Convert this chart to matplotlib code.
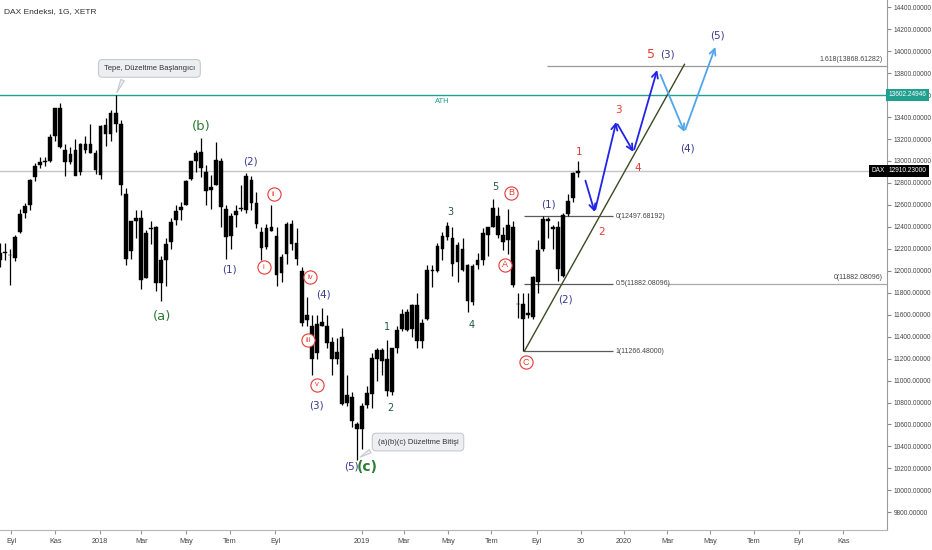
import matplotlib
matplotlib.use("Agg")
import matplotlib.pyplot as plt
import matplotlib.dates as mdates
import matplotlib.transforms as mtransforms
import numpy as np
import pandas as pd

plt.rcParams['font.family'] = ['Liberation Sans Narrow', 'Liberation Sans', 'DejaVu Sans']

# ---------------- data ----------------
title = "DAX Endeksi, 1G, XETR"
first_week = "2017-08-14"
opens = [12100,12165,12140,12120,12350,12530,12600,12850,12960,13000,13000,13230,13480,13100,12990,13100,12900,13150,13150,13070,
         12870,13330,13250,13440,13340,12700,12180,12450,12480,11930,12380,12400,11890,12100,12260,12460,12550,12600,12840,13000,
         13080,12900,12740,12780,13000,12560,12320,12510,12560,12550,12830,12620,12350,12220,12400,12320,11980,12150,12430,12250,
         12000,11600,11500,11250,11500,11500,11350,11200,11400,10800,10850,10600,10560,
         10780,10880,11200,11280,11200,10900,11300,11470,11620,11470,11690,11360,11560,12000,12000,12200,12310,12300,12080,12200,
         12050,11720,12050,12100,12330,12400,12500,12330,12280,12400,11700,11700,11600,11580,11900,12200,12450,12400,12400,11950,
         12520,12660,12890]
highs = [12250,12250,12200,12330,12560,12620,12840,12980,13040,13040,13250,13480,13526,13150,13130,13200,13160,13230,13340,13100,
         13330,13390,13460,13597,13370,12750,12450,12550,12550,12370,12450,12410,12130,12300,12480,12600,12630,12830,13000,13100,
         13205,12960,12870,13170,13030,12600,12530,12600,12780,12890,12860,12720,12400,12430,12600,12400,12150,12440,12460,12390,
         12030,11760,11600,11600,11660,11600,11400,11390,11480,11050,10900,10620,10800,
         10950,11250,11300,11300,11370,11300,11500,11650,11650,11700,11800,11560,12050,12050,12250,12350,12440,12400,12260,12300,
         12060,12060,12160,12390,12400,12656,12580,12400,12560,12450,11800,11800,11800,11950,12280,12500,12490,12420,12450,12530,
         12700,12900,13000]
lows = [12030,12100,11868,12090,12340,12480,12550,12820,12940,12950,12990,13180,13120,12860,12970,12900,12870,13070,13070,12880,
        12840,13140,13180,13260,12690,12050,12110,12300,11830,11930,12240,11820,11727,11860,12200,12420,12460,12600,12830,12900,
        12850,12600,12560,12780,12400,12104,12200,12400,12540,12530,12550,12390,12100,12200,12360,11865,11900,12060,12190,12050,
        11500,11500,11050,11200,11500,11300,11050,11150,10780,10770,10580,10279,10380,
        10750,10750,11000,11050,10860,10870,11250,11450,11450,11400,11300,11300,11550,11850,11990,12100,12280,11950,11900,12000,
        11620,11690,12020,12050,12130,12400,12300,12190,12150,11850,11570,11266,11570,11560,11800,12180,12300,12200,11910,11940,
        12500,12630,12850]
closes = [12165,12168,12143,12304,12519,12592,12828,12955,12992,12991,13217,13478,13127,12994,13060,12861,13153,13104,13072,12918,
          13320,13245,13435,13340,12785,12107,12452,12483,11913,12346,12390,11886,12096,12241,12442,12540,12580,12820,13000,13077,
          12938,12724,12767,13011,12580,12306,12496,12541,12561,12860,12616,12424,12210,12394,12364,11959,12124,12430,12246,12111,
          11523,11553,11200,11519,11529,11341,11192,11257,10788,10866,10634,10559,10767,
          10887,11205,11281,11180,10906,11299,11457,11602,11458,11686,11364,11526,12010,11999,12222,12315,12412,12060,12238,12011,
          11726,12045,12096,12340,12399,12568,12323,12260,12419,11872,11693,11562,11612,11939,12191,12469,12468,12380,12013,12512,
          12634,12894,12910]

ath_level = 13602.24946
last_price = 12910.23
fib_levels = [0.0, 0.5, 1.0]
fib_prices = [12497.68192, 11882.08096, 11266.48]
fib_ext_label, fib_ext_price = "1.618", 13868.61282
fib_start, fib_end, fib_text_at = "2019-08-16", "2019-12-17", "2019-12-21"
fib_ext_start = "2019-09-17"
ray_start = "2020-03-02"
trend_dates = ["2019-08-16", "2020-03-26"]
trend_prices = [11266.48, 13880]

# wave labels: text, date, price, colour key
lbl_text = ["(a)", "(b)", "(c)", "(5)", "(1)", "(2)", "(3)", "(4)",
            "1", "2", "3", "4", "5", "(1)", "(2)",
            "1", "2", "3", "4", "5", "(3)", "(4)", "(5)"]
lbl_date = ["2018-03-29", "2018-05-23", "2019-01-10", "2018-12-18", "2018-07-01", "2018-07-31", "2018-10-31", "2018-11-09",
            "2019-02-06", "2019-02-10", "2019-05-05", "2019-06-04", "2019-07-06", "2019-09-18", "2019-10-12",
            "2019-10-31", "2019-12-02", "2019-12-25", "2020-01-21", "2020-02-09", "2020-03-02", "2020-03-30", "2020-05-11"]
lbl_price = [11588, 13310, 10213, 10213, 12007, 12991, 10777, 11788,
             11488, 10750, 12535, 11506, 12763, 12599, 11734,
             13082, 12353, 13465, 12936, 13966, 13966, 13118, 14139]
lbl_kind = ["g", "g", "gb", "n", "n", "n", "n", "n",
            "t", "t", "t", "t", "t", "n", "n",
            "r", "r", "r", "r", "rb", "n", "n", "n"]

circ_text = ["i", "ii", "iii", "iv", "v", "A", "B", "C"]
circ_date = ["2018-08-18", "2018-09-01", "2018-10-19", "2018-10-22", "2018-10-31", "2019-07-20", "2019-07-29", "2019-08-18"]
circ_price = [12034, 12699, 11369, 11943, 10960, 12053, 12709, 11169]

proj_dark_dates = ["2019-11-08", "2019-11-22", "2019-12-22", "2020-01-15", "2020-02-17"]
proj_dark_prices = [12845, 12535, 13355, 13082, 13829]
proj_light_dates = ["2020-02-20", "2020-03-26", "2020-05-08"]
proj_light_prices = [13810, 13264, 14038]

tick_dates = ["2017-09-01", "2017-11-01", "2018-01-02", "2018-03-01", "2018-05-02", "2018-07-02", "2018-09-03",
              "2019-01-02", "2019-03-01", "2019-05-02", "2019-07-01", "2019-09-02", "2019-11-03", "2020-01-02",
              "2020-03-02", "2020-05-01", "2020-07-01", "2020-09-01", "2020-11-02"]
tick_labels = ["Eyl", "Kas", "2018", "Mar", "May", "Tem", "Eyl", "2019", "Mar", "May", "Tem", "Eyl", "30", "2020",
               "Mar", "May", "Tem", "Eyl", "Kas"]

# ---------------- figure ----------------
fig = plt.figure(figsize=(9.32, 5.5), dpi=100)
ax = fig.add_axes([0, 20/550, 887/932, 530/550])
D = lambda s: mdates.datestr2num(s)

x_left, x_right = D("2017-08-16"), D("2021-01-02")
ax.set_xlim(x_left, x_right)
ax.set_ylim(9639, 14466)

teal = "#22a08f"
red = "#e53935"
colors = {"g": "#2e7d32", "gb": "#2e7d32", "n": "#3b3b8f", "t": "#1f5a40", "r": red, "rb": red}
sizes = {"g": 9.5, "gb": 10, "n": 7.5, "t": 7, "r": 7.5, "rb": 9}

# horizontal levels
ax.axhline(ath_level, color=teal, lw=1, zorder=1)
ax.axhline(last_price, color="#c4c4c4", lw=1, zorder=1)
ax.text(D("2019-04-24"), 13546, "ATH", color=teal, fontsize=5.5, ha="center", va="center")

# candles (weekly)
wk = pd.date_range(first_week, periods=len(opens), freq="W-MON")
xc = mdates.date2num(wk) + 2
o, h, l, c = map(np.array, (opens, highs, lows, closes))
ax.vlines(xc, l, h, color="black", lw=0.9, zorder=3)
ax.bar(xc, np.maximum(np.abs(c - o), 8), bottom=np.minimum(o, c), width=5.2,
       color="black", edgecolor="black", lw=0.3, zorder=3)

# fib retracement
fibc = "#5a5a5a"
for lev, pr in zip(fib_levels, fib_prices):
    ax.hlines(pr, D(fib_start), D(fib_end), color=fibc, lw=0.9, zorder=2)
    ax.text(D(fib_text_at), pr, f"{lev:g}({pr:.5f})", fontsize=5, color="#444", ha="left", va="center")
ytr = mtransforms.blended_transform_factory(ax.transAxes, ax.transData)
ax.hlines(fib_prices[1], D(ray_start), x_right, color="#aaaaaa", lw=0.9, zorder=2)
ax.text(0.995, fib_prices[1] + 25, f"0({fib_prices[1]:.5f})", fontsize=5, color="#444", ha="right", va="bottom",
        transform=ytr)
ax.hlines(fib_ext_price, D(fib_ext_start), x_right, color="#999999", lw=0.9, zorder=2)
ax.text(0.995, fib_ext_price + 25, f"{fib_ext_label}({fib_ext_price:.5f})", fontsize=5, color="#444", ha="right",
        va="bottom", transform=ytr)

# trendline
ax.plot([D(d) for d in trend_dates], trend_prices, color="#3a4a22", lw=1, zorder=4)

# projection arrows
def arrows(dates, prices, col):
    for i in range(len(dates) - 1):
        ax.annotate("", xy=(D(dates[i + 1]), prices[i + 1]), xytext=(D(dates[i]), prices[i]),
                    arrowprops=dict(arrowstyle="->", color=col, lw=1.3, mutation_scale=11,
                                    shrinkA=2, shrinkB=0), zorder=5)
arrows(proj_dark_dates, proj_dark_prices, "#2222e8")
arrows(proj_light_dates, proj_light_prices, "#4fa6ea")

# wave labels
for t, d, p, k in zip(lbl_text, lbl_date, lbl_price, lbl_kind):
    ax.text(D(d), p, t, color=colors[k], fontsize=sizes[k], ha="center", va="center",
            family=["DejaVu Sans"], fontweight="bold" if k == "gb" else "normal", zorder=6)

for t, d, p in zip(circ_text, circ_date, circ_price):
    ax.plot(D(d), p, "o", ms=9.5, mfc="white", mec=red, mew=0.8, zorder=6)
    ax.text(D(d), p, t, color=red, fontsize=5.5 if t.islower() else 6.5, ha="center", va="center", zorder=7)

# callouts
box = dict(boxstyle="round,pad=0.7,rounding_size=0.5", fc="#eceef1", ec="#c6cbd2", lw=0.8)
ax.annotate("Tepe, Düzeltme Başlangıcı", xy=(D("2018-01-24"), 13600), xytext=(D("2018-03-12"), 13843),
            fontsize=5.5, color="#333", ha="center", va="center", bbox=box, zorder=8,
            arrowprops=dict(arrowstyle="wedge,tail_width=0.5,shrink_factor=0.5", fc="#eceef1", ec="#c6cbd2",
                            lw=0.8, relpos=(0.25, 0.05)))
ax.annotate("(a)(b)(c) Düzeltme Bitişi", xy=(D("2018-12-27"), 10290), xytext=(D("2019-03-21"), 10440),
            fontsize=5.5, color="#333", ha="center", va="center", bbox=box, zorder=8,
            arrowprops=dict(arrowstyle="wedge,tail_width=0.5,shrink_factor=0.5", fc="#eceef1", ec="#c6cbd2",
                            lw=0.8, relpos=(0.05, 0.15)))

# axes styling
for s in ("top", "left"):
    ax.spines[s].set_visible(False)
ax.spines["right"].set_color("#9a9a9a")
ax.spines["bottom"].set_color("#b5b5b5")
ax.yaxis.tick_right()
ax.set_yticks(np.arange(9800, 14401, 200))
ax.yaxis.set_major_formatter(matplotlib.ticker.FormatStrFormatter("%.5f"))
ax.tick_params(axis="y", length=3, color="#888", labelsize=4.7, labelcolor="#444", pad=2)
ax.set_xticks([D(d) for d in tick_dates])
ax.set_xticklabels(tick_labels)
ax.tick_params(axis="x", length=3, color="#999", labelsize=5.2, labelcolor="#444", pad=3)

ax.text(1.002, ath_level, f"{ath_level:.5f}", transform=ytr, ha="left", va="center", fontsize=4.7, color="white",
        bbox=dict(boxstyle="square,pad=0.4", fc=teal, ec="none"), clip_on=False, zorder=10)
ax.text(1.002, last_price, f"{last_price:.5f}", transform=ytr, ha="left", va="center", fontsize=4.7, color="white",
        bbox=dict(boxstyle="square,pad=0.4", fc="black", ec="none"), clip_on=False, zorder=10)
ax.text(0.998, last_price, "DAX", transform=ytr, ha="right", va="center", fontsize=4.7, color="white",
        bbox=dict(boxstyle="square,pad=0.4", fc="black", ec="none"), clip_on=False, zorder=10)

fig.text(4/932, 1 - 12/550, title, fontsize=6, color="#333", va="center", ha="left")

fig.savefig("out.png", dpi=100)
